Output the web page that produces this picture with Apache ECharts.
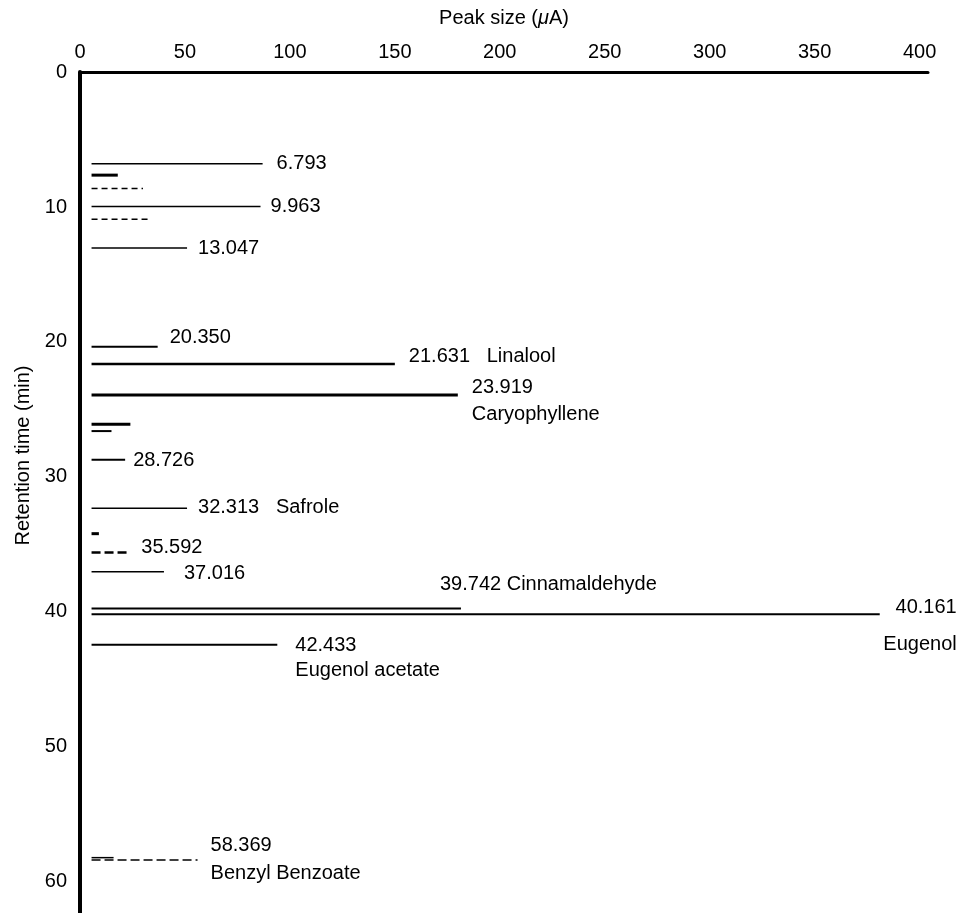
<!DOCTYPE html>
<html>
<head>
<meta charset="utf-8">
<script src="https://cdn.jsdelivr.net/npm/echarts@6/dist/echarts.min.js"></script>
<style>
  html, body { margin: 0; padding: 0; background: #fff; }
  #chart { width: 962px; height: 913px; }
</style>
</head>
<body>
<div id="chart"></div>
<script>
const FONT = "'Liberation Sans', Arial, Helvetica, sans-serif";

// Labelled peaks: retention time (min), peak size (uA), compound name
const retentionTimes = [6.793, 9.963, 13.047, 20.350, 21.631, 23.919, 28.726, 32.313, 35.592, 37.016, 39.742, 40.161, 42.433, 58.369];
const peakSizes      = [87, 86, 51, 37, 150, 180, 21.5, 51, 23, 40, 181.5, 381, 94, 56];
const compoundNames  = ['', '', '', '', 'Linalool', 'Caryophyllene', '', 'Safrole', '', '', 'Cinnamaldehyde', 'Eugenol', 'Eugenol acetate', 'Benzyl Benzoate'];

// Small unlabelled peaks close to the baseline
const minorTimes = [7.64, 8.63, 10.9, 26.1, 26.6, 34.2, 58.2];
const minorSizes = [18, 30, 33, 24, 15, 9, 16];

// Detector baseline the peaks rise from (uA)
const baselineSize = 5.5;

// Axis ticks
const xTickLabels = [0, 50, 100, 150, 200, 250, 300, 350, 400];
const yTickLabels = [0, 10, 20, 30, 40, 50, 60];

// Stroke of each labelled peak
const peakLineWidths = [1.5, 1.5, 1.5, 2, 2.5, 3, 2, 1.5, 2.5, 1.5, 2, 2, 2, 1.5];
const dashedPeaks = [8, 13];
const minorLineWidths = [3, 1.5, 1.5, 3, 2, 3, 1.5];
const dashedMinor = [1, 2];

// Where each label sits relative to the tip of its peak line
const labelPlacement = [
  [{ part: 'time', dx: 14, dy: 0 }],
  [{ part: 'time', dx: 10, dy: 0 }],
  [{ part: 'time', dx: 11, dy: 0 }],
  [{ part: 'time', dx: 12, dy: -9 }],
  [{ part: 'both', sep: '   ', dx: 14, dy: -8 }],
  [{ part: 'time', dx: 14, dy: -7 }, { part: 'name', dx: 14, dy: 20 }],
  [{ part: 'time', dx: 8, dy: 1 }],
  [{ part: 'both', sep: '   ', dx: 11, dy: -1 }],
  [{ part: 'time', dx: 13, dy: -5 }],
  [{ part: 'time', dx: 20, dy: 2 }],
  [{ part: 'both', sep: ' ', dx: -21, dy: -24 }],
  [{ part: 'time', dx: 77, dy: -7, align: 'right' }, { part: 'name', dx: 77, dy: 30, align: 'right' }],
  [{ part: 'time', dx: 18, dy: 1 }, { part: 'name', dx: 18, dy: 26 }],
  [{ part: 'time', dx: 13, dy: -14 }, { part: 'name', dx: 13, dy: 14 }]
];

const X_MIN = xTickLabels[0];
const X_STEP = xTickLabels[1] - xTickLabels[0];
const Y_MIN = yTickLabels[0];
const Y_STEP = yTickLabels[1] - yTickLabels[0];

const peakData = retentionTimes.map((rt, i) => [peakSizes[i], rt, i]);
const minorData = minorTimes.map((rt, i) => [minorSizes[i], rt, i]);

function labelText(idx, p) {
  const t = retentionTimes[idx].toFixed(3);
  if (p.part === 'time') return t;
  if (p.part === 'name') return compoundNames[idx];
  return t + p.sep + compoundNames[idx];
}

function renderPeak(params, api) {
  const size = api.value(0);
  const rt = api.value(1);
  const idx = api.value(2);
  const start = api.coord([baselineSize, rt]);
  const end = api.coord([size, rt]);
  const children = [{
    type: 'line',
    shape: { x1: start[0], y1: start[1], x2: end[0], y2: end[1] },
    style: {
      stroke: '#000',
      lineWidth: peakLineWidths[idx],
      lineDash: dashedPeaks.includes(idx) ? [9, 4] : null
    }
  }];
  labelPlacement[idx].forEach(p => {
    children.push({
      type: 'text',
      style: {
        x: end[0] + p.dx,
        y: end[1] + p.dy,
        text: labelText(idx, p),
        fill: '#000',
        fontSize: 20,
        fontFamily: FONT,
        align: p.align || 'left',
        verticalAlign: 'middle'
      }
    });
  });
  return { type: 'group', children };
}

function renderMinor(params, api) {
  const idx = api.value(2);
  const start = api.coord([baselineSize, api.value(1)]);
  const end = api.coord([api.value(0), api.value(1)]);
  return {
    type: 'line',
    shape: { x1: start[0], y1: start[1], x2: end[0], y2: end[1] },
    style: {
      stroke: '#000',
      lineWidth: minorLineWidths[idx],
      lineDash: dashedMinor.includes(idx) ? [6, 4] : null
    }
  };
}

const chart = echarts.init(document.getElementById('chart'), null, { renderer: 'canvas' });

chart.setOption({
  backgroundColor: '#fff',
  animation: false,
  textStyle: { fontFamily: FONT, color: '#000' },
  grid: { left: 80, top: 72, right: 34, bottom: 0, containLabel: false },
  xAxis: {
    type: 'value',
    position: 'top',
    min: X_MIN,
    max: 404,
    interval: X_STEP,
    name: 'Peak size ({i|μ}A)',
    nameLocation: 'middle',
    nameGap: 44,
    nameTextStyle: {
      fontSize: 20, fontFamily: FONT, color: '#000',
      rich: { i: { fontSize: 20, fontFamily: FONT, fontStyle: 'italic', color: '#000' } }
    },
    axisLine: { show: true, lineStyle: { color: '#000', width: 3 } },
    axisTick: { show: false },
    splitLine: { show: false },
    axisLabel: {
      fontSize: 20, fontFamily: FONT, color: '#000', margin: 10,
      showMaxLabel: false,
      formatter: v => (xTickLabels.includes(v) ? String(v) : '')
    }
  },
  yAxis: {
    type: 'value',
    inverse: true,
    min: Y_MIN,
    max: 62.3,
    interval: Y_STEP,
    name: 'Retention time (min)',
    nameLocation: 'middle',
    nameRotate: 90,
    nameGap: 47,
    nameTextStyle: { fontSize: 20, fontFamily: FONT, color: '#000', padding: [0, 0, 0, 74] },
    axisLine: { show: true, lineStyle: { color: '#000', width: 4 } },
    axisTick: { show: false },
    splitLine: { show: false },
    axisLabel: {
      fontSize: 20, fontFamily: FONT, color: '#000', margin: 13,
      showMaxLabel: false,
      formatter: v => (yTickLabels.includes(v) ? String(v) : '')
    }
  },
  series: [
    {
      type: 'custom',
      name: 'minor peaks',
      renderItem: renderMinor,
      encode: { x: 0, y: 1 },
      data: minorData,
      silent: true
    },
    {
      type: 'custom',
      name: 'peaks',
      renderItem: renderPeak,
      encode: { x: 0, y: 1 },
      data: peakData,
      silent: true
    }
  ]
});
</script>
</body>
</html>
